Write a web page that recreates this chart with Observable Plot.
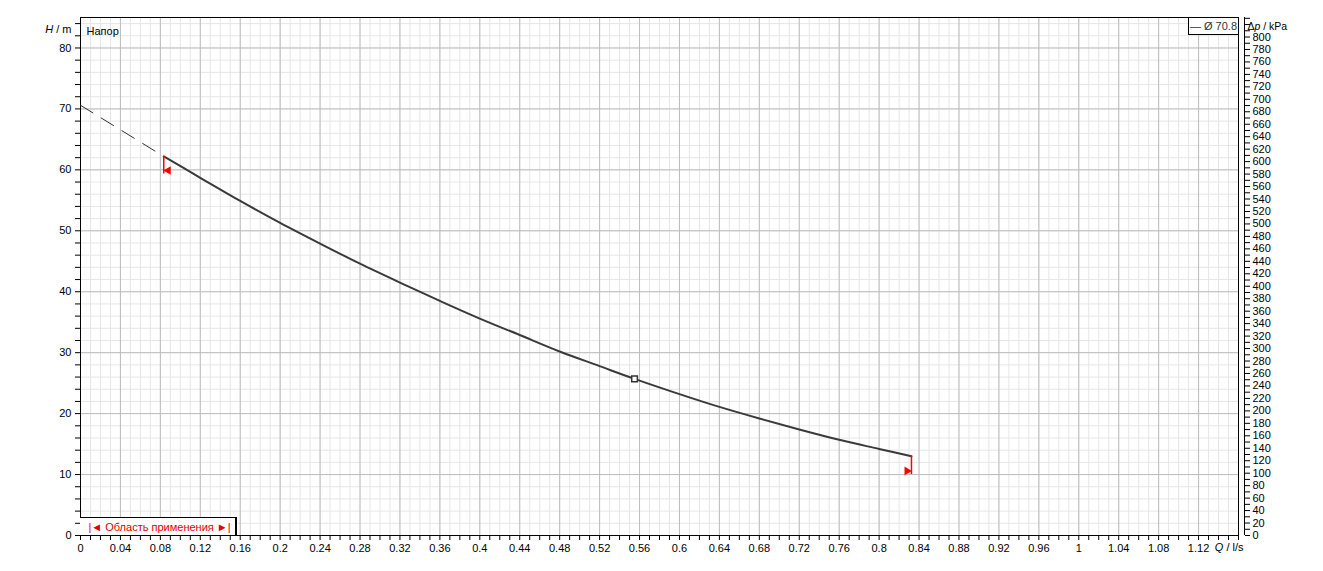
<!DOCTYPE html>
<html>
<head>
<meta charset="utf-8">
<script src="https://cdn.jsdelivr.net/npm/d3@7"></script>
<script src="https://cdn.jsdelivr.net/npm/@observablehq/plot@0.6"></script>
<style>
  html, body { margin: 0; padding: 0; background: #fff; }
  #wrap { position: relative; width: 1323px; height: 571px; font-family: "Liberation Sans", Arial, sans-serif; font-size: 11px; }
  #legend { position: absolute; left: 1188px; top: 17px; width: 49px; height: 16px; border: 1px solid #000; background: #fff; color: #333; line-height: 16px; text-align: center; white-space: nowrap; }
  #range { position: absolute; left: 80px; top: 517px; width: 155px; height: 17px; border-top: 1px solid #000; border-right: 2px solid #000; background: #fff; color: #e00000; line-height: 18px; text-align: center; white-space: nowrap; font-size: 11px; padding-left: 4px; box-sizing: content-box; width: 151px; }
</style>
</head>
<body>
<div id="wrap">
  <div id="chart"></div>
  <div id="legend">— Ø 70.8</div>
  <div id="range">|◄ Область применения ►|</div>
</div>
<script>
// Pump curve (solid) – flow Q in l/s, head H in m
const Q = [0.0834, 0.12, 0.16, 0.2, 0.24, 0.28, 0.32, 0.36, 0.4, 0.44, 0.48, 0.52, 0.555, 0.6, 0.64, 0.68, 0.72, 0.76, 0.8, 0.8324];
const H = [62.2, 58.7, 54.9, 51.3, 47.9, 44.6, 41.5, 38.5, 35.6, 32.9, 30.2, 27.8, 25.7, 23.2, 21.1, 19.2, 17.4, 15.7, 14.2, 13.0];
// Extrapolated (dashed) part
const Qdash = [0, 0.0834];
const Hdash = [70.6, 62.2];
// Duty point
const dutyQ = [0.555];
const dutyH = [25.7];
// Application range markers (start, end)
const rangeQ = [0.0834, 0.8324];
const rangeTop = [62.2, 13.0];
const rangeBottom = [59.3, 10.0];
const rangeMarkH = [59.9, 10.6];

// Axis ticks
const xMinor = d3.range(0, 117).map(i => i / 100);          // every 0.01
const xMajor = d3.range(0, 117, 4).map(i => i / 100);       // every 0.04
const yMinor = d3.range(0, 86, 2);                          // every 2 m
const yMajor = d3.range(0, 81, 10);                         // every 10 m
const kpaTicks = d3.range(0, 831, 10);                      // every 10 kPa
const kpaPerM = 9.78;

const xLabel = "Q / l/s";
const yLabel = "H / m";
const y2Label = "Δp / kPa";
const curveTitle = "Напор";

const curve = Q.map((q, i) => ({q, h: H[i]}));
const dash = Qdash.map((q, i) => ({q, h: Hdash[i]}));
const duty = dutyQ.map((q, i) => ({q, h: dutyH[i]}));
const range = rangeQ.map((q, i) => ({q, top: rangeTop[i], bottom: rangeBottom[i], mark: rangeMarkH[i]}));

const fmtX = d => String(+d.toFixed(2));

const chart = Plot.plot({
  width: 1323,
  height: 571,
  marginLeft: 80,
  marginRight: 85,
  marginTop: 17,
  marginBottom: 36,
  style: {fontFamily: "'Liberation Sans', Arial, sans-serif", fontSize: "11px", background: "#fff", color: "#000"},
  x: {domain: [0, 1.16], axis: null, label: null},
  y: {domain: [0, 85], axis: null, label: null},
  marks: [
    Plot.gridX(xMinor, {stroke: "#e6e6e6", strokeOpacity: 1}),
    Plot.gridY(yMinor, {stroke: "#e6e6e6", strokeOpacity: 1}),
    Plot.gridX(xMajor, {stroke: "#bdbdbd", strokeOpacity: 1}),
    Plot.gridY(yMajor, {stroke: "#bdbdbd", strokeOpacity: 1}),
    Plot.axisX(xMinor, {tickSize: 5, label: null, tickFormat: d => (Math.round(d * 100) % 4 === 0 && d < 1.155) ? fmtX(d) : ""}),
    Plot.axisY(yMinor.filter(d => d <= 84), {tickSize: 5, label: null, tickFormat: d => (d % 10 === 0 && d <= 80) ? d : ""}),
    Plot.axisY(kpaTicks.map(k => k / kpaPerM), {anchor: "right", tickSize: 5, dx: 6, label: null, tickPadding: 3, tickFormat: d => { const k = Math.round(d * kpaPerM); return (k % 20 === 0 && k <= 800) ? k : ""; }}),
    Plot.ruleX([1.16], {stroke: "#000", dx: 6}),
    Plot.frame({stroke: "#000"}),
    Plot.text([yLabel], {frameAnchor: "top-left", dx: -9, dy: 8, textAnchor: "end"}),
    Plot.text([y2Label], {frameAnchor: "top-right", dx: 9, dy: 5, textAnchor: "start", fontSize: 10.5}),
    Plot.text([xLabel], {frameAnchor: "bottom-right", dx: 5, dy: 15, textAnchor: "end"}),
    Plot.text([curveTitle], {frameAnchor: "top-left", dx: 6, dy: 10, textAnchor: "start"}),
    Plot.line(dash, {x: "q", y: "h", stroke: "#333", strokeWidth: 1, strokeDasharray: "14.5,9.8"}),
    Plot.line(curve, {x: "q", y: "h", stroke: "#3a3a3a", strokeWidth: 2, curve: "catmull-rom"}),
    Plot.ruleX(range, {x: "q", y1: "top", y2: "bottom", stroke: "#ff0000", strokeWidth: 1.5}),
    Plot.dot(range.slice(0, 1), {x: "q", y: "mark", dx: 4.5, symbol: "triangle", r: 3.2, fill: "#ff0000", stroke: "none", rotate: -90}),
    Plot.dot(range.slice(1), {x: "q", y: "mark", dx: -4.5, symbol: "triangle", r: 3.2, fill: "#ff0000", stroke: "none", rotate: 90}),
    Plot.dot(duty, {x: "q", y: "h", symbol: "square", r: 3.2, fill: "#fff", stroke: "#333", strokeWidth: 1.5})
  ]
});
document.getElementById("chart").appendChild(chart);

// italic variable symbols in axis labels
chart.querySelectorAll("text").forEach(t => {
  if (t.textContent === yLabel) t.innerHTML = '<tspan font-style="italic">H</tspan> / m';
  if (t.textContent === xLabel) t.innerHTML = '<tspan font-style="italic">Q</tspan> / l/s';
  if (t.textContent === y2Label) t.innerHTML = 'Δ<tspan font-style="italic">p</tspan> / kPa';
});
</script>
</body>
</html>
